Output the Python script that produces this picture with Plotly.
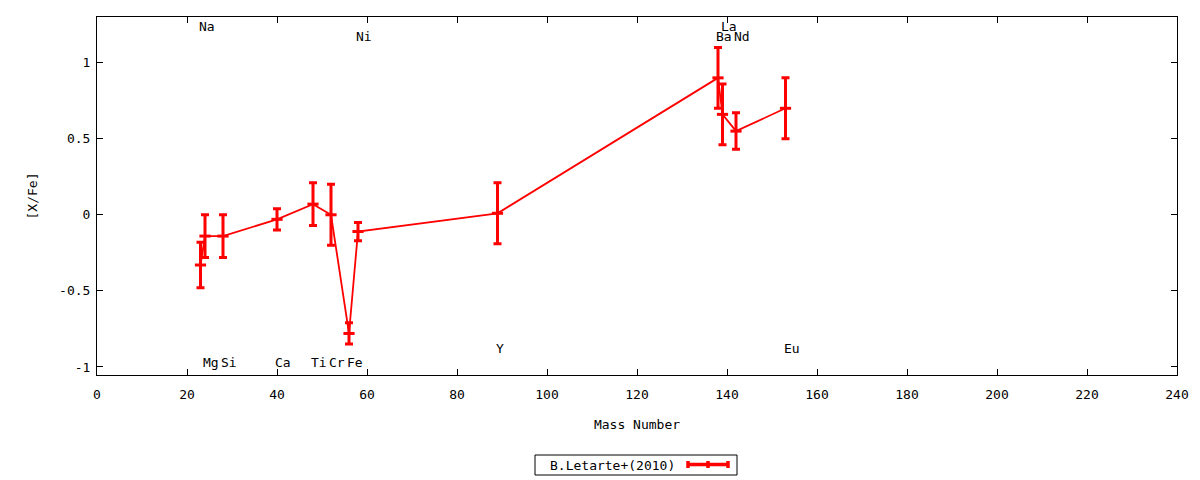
import plotly.graph_objects as go

# ---- data ----
elements = ["Na", "Mg", "Si", "Ca", "Ti", "Cr", "Fe", "Ni", "Y", "Ba", "La", "Nd", "Eu"]
mass = [23, 24, 28, 40, 48, 52, 56, 58, 89, 138, 139, 142, 153]
xfe = [-0.33, -0.14, -0.14, -0.03, 0.07, 0.00, -0.78, -0.11, 0.01, 0.90, 0.66, 0.55, 0.70]
err = [0.15, 0.14, 0.14, 0.07, 0.14, 0.20, 0.07, 0.06, 0.20, 0.20, 0.20, 0.12, 0.20]
# label row for each element name (0: top, 1: second top, 2: low, 3: bottom)
label_row = [0, 3, 3, 3, 3, 3, 3, 1, 2, 1, 0, 1, 2]
series_name = "B.Letarte+(2010)"

x_ticks = [0, 20, 40, 60, 80, 100, 120, 140, 160, 180, 200, 220, 240]
y_ticks = [-1, -0.5, 0, 0.5, 1]
y_tick_text = ["-1", "-0.5", "0", "0.5", "1"]

# ---- styling ----
RED = "#ff0000"
FONT = "DejaVu Sans Mono"
row_level = {0: 1.235, 1: 1.169, 2: -0.882, 3: -0.974}

# page body has an 8px margin: compensate so plot lands at window pixels
OFF = 8
FW, FH = 1200 - OFF, 480 - OFF
L, R, T, B = 97, 1177, 17, 375          # target plot-area edges in window pixels
W, H = R - L, B - T

fig = go.Figure()
fig.add_trace(go.Scatter(
    x=mass, y=xfe,
    mode="lines+markers",
    line=dict(color=RED, width=1.8),
    marker=dict(symbol="line-ew", size=8, color=RED, line=dict(color=RED, width=3)),
    error_y=dict(type="data", array=err, visible=True, color=RED, thickness=3, width=4),
    name=series_name,
    showlegend=False,
))

for el, m, r in zip(elements, mass, label_row):
    fig.add_annotation(
        x=m, y=row_level[r], xref="x", yref="y",
        text=el, showarrow=False, xanchor="left", yanchor="middle", xshift=-4,
        font=dict(family=FONT, size=13, color="black"),
    )

# ---- manual gnuplot-style legend box (text then key) ----
def px(xp):
    return (xp - L) / W
def py(yp):
    return (B - yp) / H

fig.add_shape(type="rect", xref="paper", yref="paper",
              x0=px(535), x1=px(737), y0=py(475), y1=py(455),
              line=dict(color="black", width=1), fillcolor="white")
fig.add_annotation(x=px(548), y=py(465), xref="paper", yref="paper",
                   text=series_name, showarrow=False, xanchor="left", yanchor="middle",
                   font=dict(family=FONT, size=13, color="black"))
ky = py(464.5)
fig.add_shape(type="line", xref="paper", yref="paper",
              x0=px(687), x1=px(729), y0=ky, y1=ky, line=dict(color=RED, width=3.5))
for xc in (688, 708, 728):
    fig.add_shape(type="line", xref="paper", yref="paper",
                  x0=px(xc), x1=px(xc), y0=py(461), y1=py(468), line=dict(color=RED, width=3.5))

axis_common = dict(
    showline=True, linecolor="black", linewidth=1, mirror="allticks",
    ticks="inside", ticklen=6, tickcolor="black", tickwidth=1,
    showgrid=False, zeroline=False,
    tickfont=dict(family=FONT, size=13, color="black"),
)
fig.update_xaxes(range=[0, 240], tickvals=x_ticks, ticktext=[str(t) for t in x_ticks],
                 ticklabelstandoff=7,
                 title=dict(text="Mass Number", font=dict(family=FONT, size=13, color="black"), standoff=19),
                 **axis_common)
fig.update_yaxes(range=[-1.053, 1.30], tickvals=y_ticks, ticktext=y_tick_text,
                 ticklabelstandoff=3,
                 title=dict(text="[X/Fe]", font=dict(family=FONT, size=13, color="black"), standoff=18),
                 **axis_common)

fig.update_layout(
    width=FW, height=FH,
    margin=dict(l=L - OFF, r=1200 - R, t=T - OFF, b=480 - B, autoexpand=False),
    plot_bgcolor="white", paper_bgcolor="white",
    showlegend=False,
    font=dict(family=FONT, size=13, color="black"),
)

fig.write_html("out.html")
